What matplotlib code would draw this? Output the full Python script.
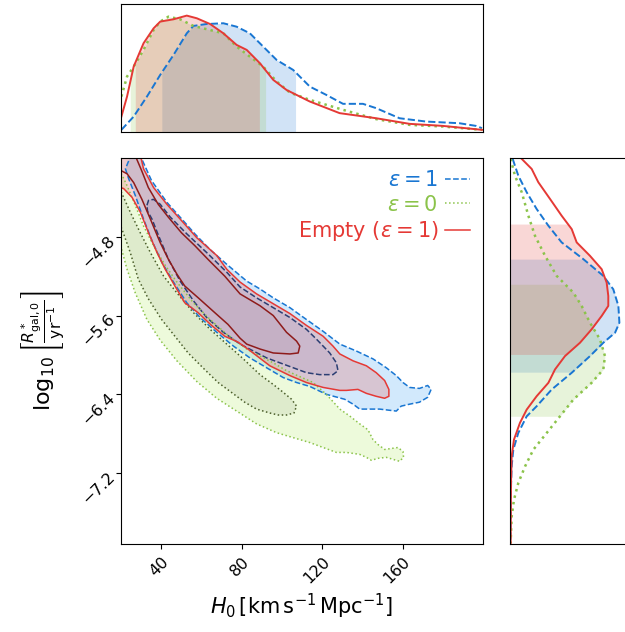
import numpy as np
import matplotlib.pyplot as plt
from matplotlib.lines import Line2D

blue, blue_dk = '#1976D2', '#2C3E73'
green, green_dk = '#8BC34A', '#4B5E2A'
red, red_dk = '#E53935', '#8E1B1B'

# 2D credible contours, traced as (H0, log10 R) outlines
blue_outer_h0 = [29.0, 35.2, 42.8, 51.1, 56.7, 64.3, 72.6, 82.5, 89.1, 95.7, 104.0, 112.2, 120.5, 128.8, 137.0, 145.3,
                 151.9, 156.9, 160.2, 163.5, 168.4, 172.5, 174.2, 172.5, 168.4, 163.5, 159.3, 156.9, 148.6, 138.7, 135.4,
                 131.2, 122.1, 113.9, 107.3, 100.7, 92.4, 84.1, 75.9, 67.6, 59.3, 52.7, 46.1, 40.3, 35.4, 31.2, 27.1,
                 23.8, 22.2, 23.8, 25.5]
blue_outer_lr = [-3.95, -4.23, -4.45, -4.64, -4.77, -4.93, -5.08, -5.25, -5.33, -5.42, -5.52, -5.64, -5.76, -5.89, -5.96,
                 -6.04, -6.13, -6.21, -6.28, -6.33, -6.34, -6.31, -6.35, -6.43, -6.48, -6.50, -6.52, -6.57, -6.55, -6.55,
                 -6.50, -6.45, -6.40, -6.32, -6.28, -6.23, -6.13, -6.03, -5.91, -5.77, -5.62, -5.47, -5.26, -5.06, -4.84,
                 -4.62, -4.38, -4.21, -4.11, -4.03, -3.94]
blue_inner_h0 = [32.9, 33.7, 36.2, 39.5, 44.5, 52.7, 62.6, 72.6, 79.2, 87.4, 95.7, 104.0, 112.2, 117.2, 123.8, 127.1,
                 127.9, 125.4, 118.8, 112.2, 105.6, 99.0, 92.4, 85.8, 79.2, 70.9, 62.6, 56.0, 49.4, 43.6, 38.7, 35.4, 33.2]
blue_inner_lr = [-4.48, -4.43, -4.42, -4.47, -4.60, -4.77, -4.96, -5.16, -5.31, -5.42, -5.52, -5.62, -5.74, -5.84, -5.98,
                 -6.08, -6.16, -6.20, -6.20, -6.18, -6.13, -6.08, -6.03, -5.96, -5.89, -5.77, -5.62, -5.45, -5.25, -5.03,
                 -4.79, -4.62, -4.54]

green_outer_h0 = [18.0, 20.2, 23.0, 27.1, 31.2, 36.2, 42.0, 47.8, 56.0, 64.3, 72.6, 82.5, 89.1, 95.7, 102.3, 108.9, 115.5,
                  122.1, 128.8, 133.7, 138.7, 142.8, 145.3, 147.8, 151.1, 154.4, 157.7, 160.2, 160.5, 158.5, 155.2, 151.9,
                  147.8, 144.5, 142.0, 138.7, 132.1, 127.1, 120.5, 113.9, 107.3, 97.4, 87.4, 77.5, 67.6, 57.7, 47.8,
                  39.5, 32.9, 27.1, 23.0, 20.2, 18.0]
green_outer_lr = [-4.15, -4.16, -4.28, -4.48, -4.69, -4.89, -5.09, -5.26, -5.47, -5.64, -5.79, -5.94, -6.01, -6.08, -6.16,
                  -6.22, -6.28, -6.40, -6.55, -6.62, -6.70, -6.76, -6.86, -6.91, -6.96, -6.95, -6.94, -6.98, -7.04, -7.08,
                  -7.06, -7.04, -7.05, -7.07, -7.04, -7.01, -6.99, -6.99, -6.94, -6.89, -6.85, -6.79, -6.70, -6.57, -6.44,
                  -6.27, -6.06, -5.85, -5.64, -5.37, -5.13, -4.92, -4.79]
green_inner_h0 = [18.0, 20.2, 24.6, 29.6, 34.6, 41.2, 47.8, 56.0, 64.3, 72.6, 80.8, 89.1, 95.7, 100.7, 104.8, 107.3,
                  106.0, 102.3, 98.2, 94.0, 87.4, 81.5, 74.9, 68.3, 61.7, 53.4, 46.8, 40.2, 33.6, 28.6, 24.6, 21.3,
                  20.2, 18.0]
green_inner_lr = [-4.33, -4.35, -4.55, -4.76, -4.96, -5.20, -5.37, -5.57, -5.74, -5.89, -6.04, -6.20, -6.30, -6.38, -6.45,
                  -6.52, -6.59, -6.61, -6.61, -6.59, -6.55, -6.48, -6.38, -6.28, -6.15, -5.98, -5.81, -5.64, -5.43,
                  -5.23, -4.96, -4.77, -4.71, -4.64]

red_outer_h0 = [29.3, 31.2, 36.2, 42.8, 49.4, 57.7, 67.6, 72.6, 79.2, 87.4, 95.7, 104.0, 112.2, 120.5, 125.4, 128.8,
                135.4, 142.0, 146.9, 151.1, 153.2, 153.2, 151.1, 146.9, 142.0, 137.8, 132.1, 128.8, 120.5, 112.2, 104.0,
                94.0, 83.1, 78.2, 71.6, 65.0, 58.3, 51.7, 46.8, 42.0, 37.9, 33.7, 29.6, 25.5, 21.3, 18.0, 18.0]
red_outer_lr = [-3.94, -4.11, -4.30, -4.47, -4.62, -4.81, -4.99, -5.13, -5.26, -5.38, -5.48, -5.58, -5.70, -5.81, -5.91,
                -5.99, -6.06, -6.11, -6.18, -6.26, -6.35, -6.42, -6.44, -6.42, -6.39, -6.35, -6.36, -6.36, -6.33, -6.28,
                -6.21, -6.11, -5.94, -5.87, -5.81, -5.70, -5.57, -5.47, -5.30, -5.13, -4.96, -4.76, -4.55, -4.40, -4.31,
                -4.29, -3.94]
red_inner_h0 = [18.0, 26.6, 27.8, 30.3, 33.6, 38.5, 43.5, 50.1, 56.7, 63.3, 71.6, 79.2, 89.1, 95.7, 102.3, 107.3, 108.9,
                108.1, 104.0, 95.7, 89.1, 82.5, 79.2, 73.2, 66.6, 58.4, 51.7, 47.8, 43.6, 39.5, 34.6, 30.4, 26.3, 23.0,
                20.2, 18.0]
red_inner_lr = [-3.94, -3.94, -4.01, -4.13, -4.30, -4.47, -4.60, -4.76, -4.89, -5.03, -5.20, -5.38, -5.50, -5.60, -5.77,
                -5.86, -5.91, -5.98, -5.99, -5.98, -5.94, -5.89, -5.83, -5.69, -5.57, -5.42, -5.30, -5.18, -5.03, -4.86,
                -4.62, -4.42, -4.25, -4.16, -4.13, -4.12]

# marginal of H0 (height as fraction of panel)
top_red_h0 = [20.2, 23.0, 26.3, 31.2, 36.2, 39.5, 46.1, 52.7, 57.7, 64.3, 70.9, 77.5, 82.5, 89.1, 95.7, 102.3, 113.9,
              128.7, 146.9, 163.5, 180.0, 199.5]
top_red_p = [0.117, 0.274, 0.509, 0.692, 0.809, 0.862, 0.880, 0.909, 0.888, 0.843, 0.770, 0.679, 0.640, 0.535, 0.405,
             0.326, 0.235, 0.144, 0.104, 0.060, 0.044, 0.013]
top_blue_h0 = [20.2, 26.3, 32.9, 39.5, 46.1, 52.7, 56.0, 62.6, 70.9, 77.5, 84.1, 90.7, 97.4, 105.6, 113.9, 122.1, 130.4,
               140.3, 146.9, 158.5, 171.7, 188.2, 196.5, 199.5]
top_blue_p = [0.013, 0.117, 0.274, 0.444, 0.600, 0.770, 0.828, 0.843, 0.849, 0.822, 0.770, 0.666, 0.561, 0.483, 0.352,
              0.287, 0.217, 0.217, 0.183, 0.104, 0.078, 0.065, 0.044, 0.026]
top_green_h0 = [20.2, 23.0, 26.3, 31.2, 36.2, 39.5, 43.6, 49.4, 56.0, 64.3, 70.9, 77.5, 84.1, 90.7, 97.4, 104.0, 113.9,
                130.4, 146.9, 163.5, 180.0, 199.5]
top_green_p = [0.274, 0.431, 0.509, 0.640, 0.796, 0.862, 0.901, 0.880, 0.828, 0.796, 0.770, 0.666, 0.587, 0.509, 0.392,
               0.305, 0.248, 0.170, 0.097, 0.052, 0.039, 0.013]
h0_interval = {'blue': (40.3, 106.8), 'green': (24.6, 91.9), 'red': (27.1, 88.8)}

# marginal of log10 R (width as fraction of panel)
right_red_lr = [-4.009, -4.111, -4.246, -4.416, -4.586, -4.722, -4.857, -4.993, -5.129, -5.265, -5.401, -5.502, -5.604,
                -5.740, -5.876, -6.012, -6.147, -6.283, -6.419, -6.555, -6.690, -6.860, -7.030, -7.301, -7.912]
right_red_p = [0.092, 0.170, 0.222, 0.314, 0.405, 0.484, 0.523, 0.627, 0.719, 0.758, 0.771, 0.771, 0.719, 0.640, 0.549,
               0.431, 0.353, 0.301, 0.209, 0.131, 0.078, 0.031, 0.013, 0.008, 0.005]
right_blue_lr = [-4.009, -4.179, -4.348, -4.518, -4.688, -4.857, -5.027, -5.197, -5.333, -5.502, -5.672, -5.774, -5.876,
                 -6.012, -6.181, -6.351, -6.521, -6.623, -6.792, -6.962, -7.132, -7.471, -7.912]
right_blue_p = [0.021, 0.065, 0.131, 0.209, 0.301, 0.405, 0.575, 0.732, 0.810, 0.850, 0.858, 0.824, 0.732, 0.627, 0.484,
                0.327, 0.209, 0.131, 0.065, 0.026, 0.013, 0.005, 0.003]
right_green_lr = [-4.009, -4.179, -4.348, -4.586, -4.790, -4.993, -5.197, -5.367, -5.502, -5.672, -5.842, -6.012, -6.147,
                  -6.283, -6.453, -6.623, -6.792, -6.962, -7.132, -7.301, -7.471, -7.641, -7.912]
right_green_p = [0.005, 0.039, 0.092, 0.144, 0.196, 0.275, 0.366, 0.497, 0.562, 0.627, 0.706, 0.745, 0.732, 0.640, 0.497,
                 0.392, 0.288, 0.183, 0.118, 0.065, 0.031, 0.013, 0.005]
lr_interval = {'blue': (-6.175, -5.027), 'green': (-6.623, -5.282), 'red': (-5.995, -4.671)}

fig = plt.figure(figsize=(6.25, 6.32), dpi=100)
ax = fig.add_axes([121 / 625, 88 / 632, 362 / 625, 386 / 632])
axt = fig.add_axes([121 / 625, 500.5 / 632, 362 / 625, 127.5 / 632])
axr = fig.add_axes([510 / 625, 88 / 632, 127.5 / 625, 386 / 632])

chains = [
    ('blue', blue, blue_dk, '--', '#90CAF9', '#3F51B5',
     blue_outer_h0, blue_outer_lr, blue_inner_h0, blue_inner_lr),
    ('green', green, green_dk, ':', '#CCF29A', '#8A9A7A',
     green_outer_h0, green_outer_lr, green_inner_h0, green_inner_lr),
    ('red', red, red_dk, '-', '#E57373', '#7A4A6A',
     red_outer_h0, red_outer_lr, red_inner_h0, red_inner_lr),
]
alphas = {'blue': (0.4, 0.12), 'green': (0.35, 0.15), 'red': (0.3, 0.07)}

for name, c, cdk, ls, fo, fi, ox, oy, ix, iy in chains:
    ao, ai = alphas[name]
    ax.fill(ox, oy, color=fo, alpha=ao, lw=0)
    ax.fill(ix, iy, color=fi, alpha=ai, lw=0)
for name, c, cdk, ls, fo, fi, ox, oy, ix, iy in chains:
    ax.plot(ox + ox[:1], oy + oy[:1], color=c, ls=ls, lw=1.1)
    ax.plot(ix + ix[:1], iy + iy[:1], color=cdk, ls=ls, lw=1.1)

ax.set_xlim(20, 200)
ax.set_ylim(-7.92, -4.0)
ax.set_xticks([40, 80, 120, 160])
ax.set_yticks([-4.8, -5.6, -6.4, -7.2])
ax.tick_params(labelsize=11.5)
plt.setp(ax.get_xticklabels(), rotation=45, ha='right', rotation_mode='anchor')
plt.setp(ax.get_yticklabels(), rotation=45, ha='right', rotation_mode='anchor')
ax.set_xlabel(r'$H_0\,[\mathrm{km\,s^{-1}\,Mpc^{-1}}]$', fontsize=15)
ax.set_ylabel(r'$\log_{10}\left[\frac{R^*_{\mathrm{gal,0}}}{\mathrm{yr^{-1}}}\right]$', fontsize=16, labelpad=8)

handles = [Line2D([], [], color=blue, ls='--', lw=1.1),
           Line2D([], [], color=green, ls=':', lw=1.1),
           Line2D([], [], color=red, ls='-', lw=1.1)]
labels = [r'$\epsilon = 1$', r'$\epsilon = 0$', r'Empty ($\epsilon = 1$)']
ax.legend(handles, labels, loc='upper right', frameon=False, markerfirst=False, fontsize=15,
          labelcolor=[blue, green, red], handlelength=1.2, handletextpad=0.35, labelspacing=0.2,
          borderaxespad=0.2)

# top marginal
tops = [('blue', blue, '--', top_blue_h0, top_blue_p),
        ('green', green, ':', top_green_h0, top_green_p),
        ('red', red, '-', top_red_h0, top_red_p)]
for name, c, ls, x, p in tops:
    lo, hi = h0_interval[name]
    xs = np.array(x)
    keep = (xs > lo) & (xs < hi)
    fx = np.concatenate([[lo], xs[keep], [hi]])
    fp = np.concatenate([[np.interp(lo, x, p)], np.array(p)[keep], [np.interp(hi, x, p)]])
    axt.fill_between(fx, 0, fp, color=c, alpha=0.2, lw=0)
for name, c, ls, x, p in tops:
    axt.plot(x, p, color=c, ls=ls, lw=1.4 if ls != ':' else 1.8)
axt.set_xlim(20, 200)
axt.set_ylim(0, 1)
axt.set_xticks([])
axt.set_yticks([])

# right marginal
rights = [('blue', blue, '--', right_blue_lr, right_blue_p),
          ('green', green, ':', right_green_lr, right_green_p),
          ('red', red, '-', right_red_lr, right_red_p)]
for name, c, ls, y, p in rights:
    lo, hi = lr_interval[name]
    ys = np.array(y)[::-1]
    ps = np.array(p)[::-1]
    keep = (ys > lo) & (ys < hi)
    fy = np.concatenate([[lo], ys[keep], [hi]])
    fp = np.concatenate([[np.interp(lo, ys, ps)], ps[keep], [np.interp(hi, ys, ps)]])
    axr.fill_betweenx(fy, 0, fp, color=c, alpha=0.2, lw=0)
for name, c, ls, y, p in rights:
    axr.plot(p, y, color=c, ls=ls, lw=1.4 if ls != ':' else 1.8)
axr.set_ylim(-7.92, -4.0)
axr.set_xlim(0, 1)
axr.set_xticks([])
axr.set_yticks([])

fig.savefig('out.png', dpi=100)
